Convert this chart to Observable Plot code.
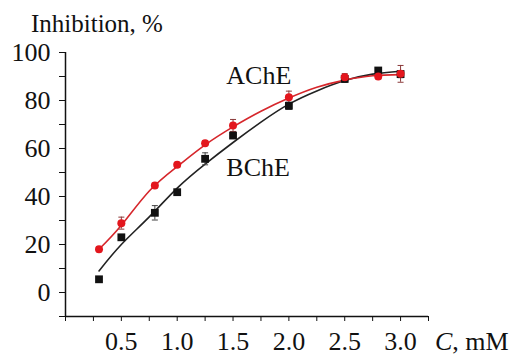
<!DOCTYPE html>
<html>
<head>
<meta charset="utf-8">
<script src="https://cdn.jsdelivr.net/npm/d3@7"></script>
<script src="https://cdn.jsdelivr.net/npm/@observablehq/plot@0.6"></script>
<style>
  html, body { margin: 0; padding: 0; background: #fff; }
  #chart svg { display: block; }
  #chart svg text { font-family: "Liberation Serif", "Times New Roman", serif !important; }
</style>
</head>
<body>
<div id="chart"></div>
<script>
// Measured data (concentration, mM) and inhibition (%)
const conc = [0.3, 0.5, 0.8, 1.0, 1.25, 1.5, 2.0, 2.5, 2.8, 3.0];
const ache = [18, 28.9, 44.6, 53.2, 62.2, 69.6, 81.4, 89.7, 90, 91.1];
const acheErr = [1, 2.5, 1, 1, 1, 2.5, 2.5, 1.5, 1, 3.5];
const bche = [5.5, 23, 33.2, 41.8, 55.7, 65.4, 77.8, 89, 92.5, 91];
const bcheErr = [1, 1, 3, 1, 2.5, 1, 1.5, 1.5, 1, 1.5];

// Fitted curves
const fitX = [0.3, 0.5, 0.75, 1.0, 1.25, 1.5, 1.75, 2.0, 2.25, 2.5, 2.75, 3.0];
const acheFit = [18, 28, 42.3, 52.5, 61.5, 69, 75.5, 81, 85.5, 88.5, 90.3, 90.8];
const bcheFit = [9, 20, 31.5, 43.5, 53.5, 62.5, 71, 78.5, 84, 88.3, 91, 92.2];

// Axis ticks
const yMajor = [0, 20, 40, 60, 80, 100];
const yMinor = [-10, 10, 30, 50, 70, 90];
const xMajor = [0.5, 1.0, 1.5, 2.0, 2.5, 3.0];
const xMinor = [0, 0.25, 0.75, 1.25, 1.75, 2.25, 2.75, 3.25];

// Labels
const curveLabels = [
  {x: 1.44, y: 87, text: "AChE"},
  {x: 1.44, y: 48.7, text: "BChE"}
];
const yTitle = "Inhibition, %";

const RED = "#e3161d";
const BLACK = "#111111";
const FONT = "Liberation Serif";

const pts = (ys, errs, name) => conc.map((c, i) => ({x: c, y: ys[i], e: errs[i], s: name}));
const achePts = pts(ache, acheErr, "AChE");
const bchePts = pts(bche, bcheErr, "BChE");
const acheLine = fitX.map((x, i) => ({x, y: acheFit[i]}));
const bcheLine = fitX.map((x, i) => ({x, y: bcheFit[i]}));

const capSymbol = {
  draw(context, size) {
    context.moveTo(-3, 0);
    context.lineTo(3, 0);
  }
};

const plot = Plot.plot({
  width: 509,
  height: 355,
  marginLeft: 65,
  marginRight: 81,
  marginTop: 52,
  marginBottom: 39,
  style: {fontFamily: FONT, background: "#fff", overflow: "visible"},
  x: {domain: [0, 3.25]},
  y: {domain: [-10, 100]},
  marks: [
    // axis lines
    Plot.ruleX([0], {y1: -10, y2: 100, stroke: BLACK, strokeWidth: 1.5}),
    Plot.ruleY([-10], {x1: 0, x2: 3.25, stroke: BLACK, strokeWidth: 1.5}),
    // y axis
    Plot.axisY(yMajor, {tickSize: 6, tickPadding: 9, fontSize: 26, fontFamily: FONT, stroke: BLACK, color: BLACK, label: null}),
    Plot.axisY(yMinor, {tickSize: 6, tickFormat: () => "", stroke: BLACK, label: null}),
    // x axis
    Plot.axisX(xMajor, {tickSize: 5, tickPadding: 10, fontSize: 26, fontFamily: FONT, tickFormat: d3.format(".1f"), stroke: BLACK, color: BLACK, label: null}),
    Plot.axisX(xMinor, {tickSize: 5, tickFormat: () => "", stroke: BLACK, label: null}),
    // fitted curves
    Plot.line(bcheLine, {x: "x", y: "y", curve: "natural", stroke: "#222", strokeWidth: 1.6}),
    Plot.line(acheLine, {x: "x", y: "y", curve: "natural", stroke: "#d6262b", strokeWidth: 1.6}),
    // error bars
    Plot.ruleX(bchePts, {x: "x", y1: d => d.y - d.e, y2: d => d.y + d.e, stroke: "#444", strokeWidth: 1}),
    Plot.dot(bchePts, {x: "x", y: d => d.y + d.e, symbol: capSymbol, stroke: "#444", strokeWidth: 1}),
    Plot.dot(bchePts, {x: "x", y: d => d.y - d.e, symbol: capSymbol, stroke: "#444", strokeWidth: 1}),
    Plot.ruleX(achePts, {x: "x", y1: d => d.y - d.e, y2: d => d.y + d.e, stroke: "#8a3a3a", strokeWidth: 1}),
    Plot.dot(achePts, {x: "x", y: d => d.y + d.e, symbol: capSymbol, stroke: "#8a3a3a", strokeWidth: 1}),
    Plot.dot(achePts, {x: "x", y: d => d.y - d.e, symbol: capSymbol, stroke: "#8a3a3a", strokeWidth: 1}),
    // points
    Plot.dot(bchePts, {x: "x", y: "y", symbol: "square", r: 4.4, fill: BLACK, stroke: "none"}),
    Plot.dot(achePts, {x: "x", y: "y", symbol: "circle", r: 4, fill: RED, stroke: "none"}),
    // curve labels
    Plot.text(curveLabels, {x: "x", y: "y", text: "text", textAnchor: "start", lineAnchor: "bottom", fontSize: 26, fontFamily: FONT, fill: BLACK})
  ]
});

const svg = d3.select(plot);
// y-axis title
svg.append("text")
  .attr("x", 31)
  .attr("y", 32)
  .attr("text-anchor", "start")
  .attr("font-size", 25)
  .attr("font-family", FONT)
  .attr("fill", BLACK)
  .text(yTitle);
// x-axis title with italic C
const t = svg.append("text")
  .attr("x", 435)
  .attr("y", 350)
  .attr("text-anchor", "start")
  .attr("font-size", 26)
  .attr("font-family", FONT)
  .attr("fill", BLACK);
t.append("tspan").attr("font-style", "italic").text("C");
t.append("tspan").text(", mM");

document.getElementById("chart").appendChild(plot);
</script>
</body>
</html>
